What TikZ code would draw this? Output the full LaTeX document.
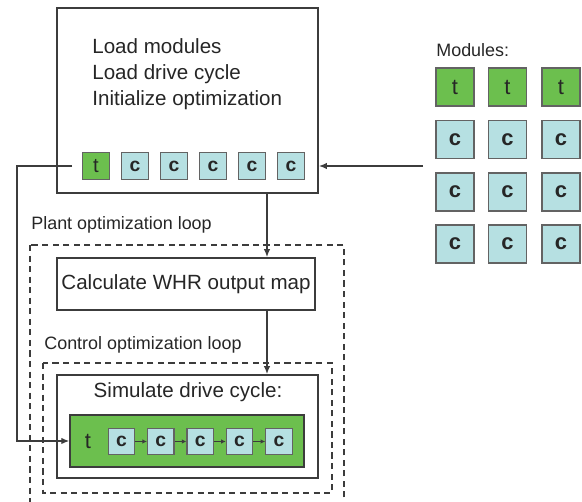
\documentclass[tikz,border=0pt]{standalone}
\usepackage{fontspec}
\setmainfont{Liberation Sans}
\usetikzlibrary{arrows.meta}
\definecolor{modgreen}{HTML}{6CBF4E}
\definecolor{modblue}{HTML}{B6E0E2}
\definecolor{lineg}{HTML}{3C3C3C}
\begin{document}
\begin{tikzpicture}[x=0.2mm, y=-0.2mm,
  every node/.style={inner sep=0pt, text=black!85, font=\fontsize{11.7}{14.7}\selectfont},
  box/.style={draw=lineg, line width=1pt, fill=white},
  loopbox/.style={draw=lineg, line width=0.9pt, dash pattern=on 3.5pt off 2.5pt},
  tmod/.style={draw=lineg!80, line width=0.7pt, fill=modgreen, minimum size=5.3mm,
               font=\fontsize{11.5}{12}\selectfont},
  cmod/.style={tmod, fill=modblue, font=\fontsize{11}{12}\selectfont\bfseries},
  bigmod/.style={minimum size=7.6mm, font=\fontsize{12.5}{14}\selectfont#1},
  lbl/.style={anchor=west, font=\fontsize{10.2}{12}\selectfont},
  link/.style={draw=lineg, line width=0.8pt, -{Latex[length=1.6mm,width=1.3mm]}},
  chain/.style={draw=lineg, line width=0.6pt, -{Latex[length=0.9mm,width=0.9mm]}}]
  \useasboundingbox (0,0) rectangle (582,502);
  \clip (0,0) rectangle (582,502);
  \draw[loopbox] (30,245) rectangle (344,520);
  \node[box, minimum width=52.2mm, minimum height=37mm] (init) at (187.5,100.5) {};
  \node[anchor=west, align=left] (steps) at (92,74) {Load modules\\Load drive cycle\\Initialize optimization};
  \node[tmod] (t0) at (96,166) {t};
  \foreach \i in {1,...,5}
    \node[cmod] (c\i) at (96+39*\i,166) {c};
  \node[lbl] (modlbl) at (436,50) {Modules:};
  \foreach \col [count=\j] in {455,507.5,561} {
    \node[tmod, bigmod={}] (mt\j) at (\col,87) {t};
    \foreach \row [count=\k] in {139.5,192,244}
      \node[cmod, bigmod=\bfseries] (mc\j\k) at (\col,\row) {c};
  }
  \node[lbl] (plantlbl) at (31,225) {Plant optimization loop};
  \node[box, minimum width=51.6mm, minimum height=10.4mm] (whr) at (186,284) {Calculate WHR output map};
  \node[lbl] (ctrllbl) at (44,345) {Control optimization loop};
  \draw[loopbox] (43,363) rectangle (332,493);
  \node[box, minimum width=52.2mm, minimum height=20.6mm] (sim) at (187.5,426.5) {};
  \node (simlbl) at (188,392) {Simulate drive cycle:};
  \node[draw=lineg, line width=0.8pt, fill=modgreen, minimum width=46.8mm, minimum height=10.4mm] (cycle) at (187,441) {};
  \node[font=\fontsize{12.5}{14}\selectfont] (st) at (88,441) {t};
  \foreach \i in {1,...,5}
    \node[cmod] (s\i) at (82+39.4*\i,441.5) {c};
  \foreach \i [count=\j from 2] in {1,...,4}
    \draw[chain] (s\i) -- (s\j);
  \coordinate (xdrop) at (267,0);
  \coordinate (tout) at (72,166);
  \coordinate (modin) at (423,166);
  \draw[link] (init.south -| xdrop) -- (whr.north -| xdrop);
  \draw[link] (whr.south -| xdrop) -- (sim.north -| xdrop);
  \draw[link] (tout) -- ++(-55,0) |- (cycle.west);
  \draw[link] (modin) -- (init.east |- modin);
\end{tikzpicture}
\end{document}
